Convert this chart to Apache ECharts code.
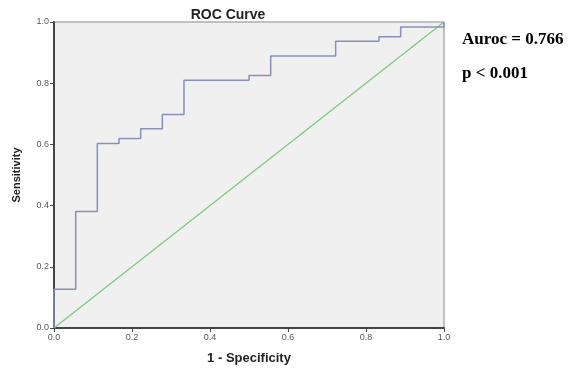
<!DOCTYPE html>
<html><head><meta charset="utf-8">
<script src="https://cdn.jsdelivr.net/npm/echarts@6/dist/echarts.min.js"></script>
<style>html,body{margin:0;padding:0;background:#fff}#c{width:577px;height:380px}</style>
</head><body><div id="c"></div>
<script>
// ROC curve step points (1 - specificity, sensitivity)
const fpr = [0, 0, 0.0556, 0.0556, 0.1111, 0.1111, 0.1667, 0.1667, 0.2222, 0.2222, 0.2778, 0.2778, 0.3333, 0.3333, 0.5, 0.5, 0.5556, 0.5556, 0.7222, 0.7222, 0.8333, 0.8333, 0.8889, 0.8889, 1.0, 1.0];
const tpr = [0, 0.127, 0.127, 0.381, 0.381, 0.603, 0.603, 0.619, 0.619, 0.651, 0.651, 0.698, 0.698, 0.810, 0.810, 0.825, 0.825, 0.889, 0.889, 0.937, 0.937, 0.952, 0.952, 0.984, 0.984, 1.0];
const refX = [0, 1];
const refY = [0, 1];
const ticks = ['0.0', '0.2', '0.4', '0.6', '0.8', '1.0'];
const titleText = 'ROC Curve';
const xName = '1 - Specificity';
const yName = 'Sensitivity';
const notes = ['Auroc = 0.766', 'p < 0.001'];

const chart = echarts.init(document.getElementById('c'));
const fmt = v => ticks[Math.round(v * 5)];
chart.setOption({
  animation: false,
  backgroundColor: '#fff',
  title: { text: titleText, left: 223, top: 3, textAlign: 'center',
    textStyle: { fontFamily: 'Liberation Sans, Arial', fontSize: 14, fontWeight: 'bold', color: '#222' } },
  grid: { left: 54, top: 22, width: 390, height: 306, show: true, backgroundColor: '#f0f0f0', borderColor: '#888', borderWidth: 1 },
  xAxis: { type: 'value', min: 0, max: 1, interval: 0.2,
    name: xName, nameLocation: 'middle', nameGap: 24,
    nameTextStyle: { fontFamily: 'Liberation Sans, Arial', fontSize: 13, fontWeight: 'bold', color: '#222' },
    axisLine: { show: true, lineStyle: { color: '#444', width: 2 } },
    axisTick: { show: true, length: 4, lineStyle: { color: '#444' } },
    axisLabel: { formatter: fmt, fontSize: 9, color: '#555', margin: 5, fontFamily: 'Liberation Sans, Arial' },
    splitLine: { show: false } },
  yAxis: { type: 'value', min: 0, max: 1, interval: 0.2,
    name: yName, nameLocation: 'middle', nameGap: 32,
    nameTextStyle: { fontFamily: 'Liberation Sans, Arial', fontSize: 11, fontWeight: 'bold', color: '#222' },
    axisLine: { show: true, lineStyle: { color: '#444', width: 2 } },
    axisTick: { show: true, length: 4, lineStyle: { color: '#444' } },
    axisLabel: { formatter: fmt, fontSize: 9, color: '#555', margin: 5, fontFamily: 'Liberation Sans, Arial' },
    splitLine: { show: false } },
  series: [
    { type: 'line', data: refX.map((x, i) => [x, refY[i]]), symbol: 'none',
      lineStyle: { color: '#7cc77c', width: 1.2 } },
    { type: 'line', data: fpr.map((x, i) => [x, tpr[i]]), symbol: 'none',
      lineStyle: { color: '#8890b8', width: 1.5 } }
  ],
  graphic: [
    { type: 'text', left: 462, top: 31, style: { text: notes[0], font: 'bold 17px "Liberation Serif", "Times New Roman", serif', fill: '#000' } },
    { type: 'text', left: 462, top: 65, style: { text: notes[1], font: 'bold 17px "Liberation Serif", "Times New Roman", serif', fill: '#000' } }
  ]
});
</script></body></html>
